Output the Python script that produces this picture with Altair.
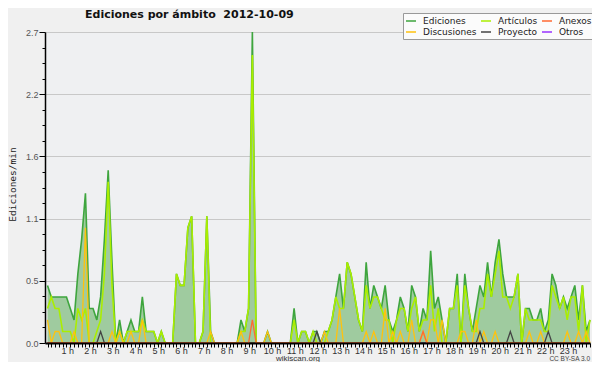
import altair as alt
import pandas as pd

# 10-minute bins over the day (0..143), values in edits/min
bins = list(range(144))

total = [
    0.5, 0.4, 0.4, 0.4, 0.4, 0.4, 0.3, 0.2, 0.6, 0.9, 1.3, 0.3,
    0.3, 0.2, 0.4, 0.9, 1.5, 0.7, 0.0, 0.2, 0.0, 0.1, 0.2, 0.1,
    0.1, 0.4, 0.1, 0.1, 0.1, 0.0, 0.1, 0.0, 0.0, 0.0, 0.6, 0.5,
    0.5, 1.0, 1.1, 0.0, 0.0, 0.1, 1.1, 0.1, 0.0, 0.0, 0.0, 0.0,
    0.0, 0.0, 0.0, 0.2, 0.1, 0.3, 2.7, 0.0, 0.0, 0.0, 0.1, 0.0,
    0.0, 0.0, 0.0, 0.0, 0.0, 0.3, 0.0, 0.1, 0.1, 0.0, 0.1, 0.1,
    0.0, 0.1, 0.1, 0.2, 0.4, 0.6, 0.3, 0.7, 0.6, 0.4, 0.2, 0.1,
    0.7, 0.3, 0.5, 0.4, 0.3, 0.5, 0.2, 0.1, 0.2, 0.4, 0.3, 0.1,
    0.5, 0.4, 0.1, 0.3, 0.2, 0.8, 0.3, 0.4, 0.2, 0.0, 0.3, 0.3,
    0.6, 0.0, 0.6, 0.3, 0.1, 0.3, 0.5, 0.4, 0.7, 0.4, 0.7, 0.9,
    0.6, 0.4, 0.4, 0.4, 0.6, 0.0, 0.3, 0.3, 0.2, 0.2, 0.3, 0.1,
    0.2, 0.6, 0.5, 0.3, 0.4, 0.3, 0.4, 0.5, 0.2, 0.5, 0.1, 0.2,
]

articulos = [
    0.3, 0.4, 0.3, 0.3, 0.1, 0.1, 0.1, 0.0, 0.3, 0.2, 0.3, 0.0,
    0.0, 0.1, 0.2, 0.6, 1.4, 0.5, 0.0, 0.1, 0.0, 0.1, 0.1, 0.1,
    0.1, 0.2, 0.1, 0.1, 0.1, 0.0, 0.1, 0.0, 0.0, 0.0, 0.6, 0.5,
    0.5, 1.0, 1.1, 0.0, 0.0, 0.1, 1.1, 0.0, 0.0, 0.0, 0.0, 0.0,
    0.0, 0.0, 0.0, 0.1, 0.1, 0.3, 2.5, 0.0, 0.0, 0.0, 0.0, 0.0,
    0.0, 0.0, 0.0, 0.0, 0.0, 0.2, 0.0, 0.1, 0.1, 0.0, 0.1, 0.0,
    0.0, 0.0, 0.1, 0.2, 0.4, 0.3, 0.3, 0.7, 0.6, 0.4, 0.2, 0.1,
    0.5, 0.3, 0.4, 0.4, 0.3, 0.2, 0.2, 0.0, 0.2, 0.3, 0.3, 0.1,
    0.3, 0.4, 0.1, 0.2, 0.2, 0.5, 0.1, 0.3, 0.0, 0.0, 0.3, 0.3,
    0.5, 0.0, 0.5, 0.3, 0.1, 0.1, 0.3, 0.3, 0.6, 0.4, 0.6, 0.8,
    0.4, 0.4, 0.3, 0.4, 0.6, 0.0, 0.3, 0.2, 0.2, 0.2, 0.2, 0.1,
    0.1, 0.5, 0.4, 0.3, 0.4, 0.2, 0.4, 0.4, 0.1, 0.5, 0.0, 0.2,
]

discusiones = [
    0.2, 0.0, 0.1, 0.1, 0.0, 0.0, 0.0, 0.1, 0.0, 0.0, 1.0, 0.0,
    0.0, 0.0, 0.0, 0.0, 0.0, 0.1, 0.0, 0.1, 0.0, 0.0, 0.1, 0.0,
    0.0, 0.2, 0.0, 0.0, 0.0, 0.0, 0.0, 0.0, 0.0, 0.0, 0.0, 0.0,
    0.0, 0.0, 0.0, 0.0, 0.0, 0.0, 0.0, 0.1, 0.0, 0.0, 0.0, 0.0,
    0.0, 0.0, 0.0, 0.1, 0.0, 0.0, 0.0, 0.0, 0.0, 0.0, 0.1, 0.0,
    0.0, 0.0, 0.0, 0.0, 0.0, 0.0, 0.0, 0.0, 0.0, 0.0, 0.0, 0.0,
    0.0, 0.1, 0.0, 0.0, 0.0, 0.3, 0.0, 0.0, 0.0, 0.0, 0.0, 0.0,
    0.1, 0.0, 0.1, 0.0, 0.0, 0.3, 0.0, 0.1, 0.0, 0.1, 0.0, 0.0,
    0.2, 0.0, 0.0, 0.1, 0.0, 0.2, 0.2, 0.0, 0.2, 0.0, 0.0, 0.0,
    0.0, 0.1, 0.1, 0.0, 0.0, 0.2, 0.0, 0.1, 0.0, 0.0, 0.1, 0.0,
    0.0, 0.0, 0.0, 0.0, 0.0, 0.0, 0.0, 0.1, 0.0, 0.0, 0.1, 0.0,
    0.0, 0.0, 0.0, 0.0, 0.0, 0.1, 0.0, 0.0, 0.1, 0.0, 0.1, 0.0,
]

proyecto = [
    0.0, 0.0, 0.0, 0.0, 0.0, 0.0, 0.0, 0.0, 0.0, 0.0, 0.0, 0.0,
    0.0, 0.0, 0.1, 0.0, 0.0, 0.0, 0.0, 0.0, 0.0, 0.0, 0.0, 0.0,
    0.0, 0.0, 0.0, 0.0, 0.0, 0.0, 0.0, 0.0, 0.0, 0.0, 0.0, 0.0,
    0.0, 0.0, 0.0, 0.0, 0.0, 0.0, 0.0, 0.0, 0.0, 0.0, 0.0, 0.0,
    0.0, 0.0, 0.0, 0.0, 0.0, 0.0, 0.0, 0.0, 0.0, 0.0, 0.0, 0.0,
    0.0, 0.0, 0.0, 0.0, 0.0, 0.0, 0.0, 0.0, 0.0, 0.0, 0.0, 0.1,
    0.0, 0.0, 0.0, 0.0, 0.0, 0.0, 0.0, 0.0, 0.0, 0.0, 0.0, 0.0,
    0.0, 0.0, 0.0, 0.0, 0.0, 0.0, 0.0, 0.0, 0.0, 0.0, 0.0, 0.0,
    0.0, 0.0, 0.0, 0.0, 0.0, 0.0, 0.0, 0.0, 0.0, 0.0, 0.0, 0.0,
    0.0, 0.0, 0.0, 0.0, 0.0, 0.0, 0.1, 0.0, 0.0, 0.0, 0.0, 0.0,
    0.0, 0.0, 0.1, 0.0, 0.0, 0.0, 0.0, 0.0, 0.0, 0.0, 0.0, 0.0,
    0.1, 0.0, 0.0, 0.0, 0.0, 0.0, 0.0, 0.0, 0.0, 0.0, 0.0, 0.0,
]

anexos = [
    0.0, 0.0, 0.0, 0.0, 0.0, 0.0, 0.0, 0.0, 0.0, 0.0, 0.0, 0.0,
    0.0, 0.0, 0.0, 0.0, 0.0, 0.0, 0.0, 0.0, 0.0, 0.0, 0.0, 0.0,
    0.0, 0.0, 0.0, 0.0, 0.0, 0.0, 0.0, 0.0, 0.0, 0.0, 0.0, 0.0,
    0.0, 0.0, 0.0, 0.0, 0.0, 0.0, 0.0, 0.0, 0.0, 0.0, 0.0, 0.0,
    0.0, 0.0, 0.0, 0.0, 0.0, 0.0, 0.2, 0.0, 0.0, 0.0, 0.0, 0.0,
    0.0, 0.0, 0.0, 0.0, 0.0, 0.0, 0.0, 0.0, 0.0, 0.0, 0.0, 0.0,
    0.0, 0.0, 0.0, 0.0, 0.0, 0.0, 0.0, 0.0, 0.0, 0.0, 0.0, 0.0,
    0.0, 0.0, 0.0, 0.0, 0.0, 0.0, 0.0, 0.0, 0.0, 0.0, 0.0, 0.0,
    0.0, 0.0, 0.0, 0.1, 0.0, 0.0, 0.0, 0.0, 0.0, 0.0, 0.0, 0.0,
    0.0, 0.0, 0.0, 0.0, 0.0, 0.0, 0.0, 0.0, 0.0, 0.0, 0.0, 0.0,
    0.0, 0.0, 0.0, 0.0, 0.0, 0.0, 0.0, 0.0, 0.0, 0.0, 0.0, 0.0,
    0.0, 0.0, 0.0, 0.0, 0.0, 0.0, 0.0, 0.0, 0.0, 0.0, 0.0, 0.0,
]

otros = [
    0.0, 0.0, 0.0, 0.0, 0.0, 0.0, 0.0, 0.0, 0.0, 0.0, 0.0, 0.0,
    0.0, 0.0, 0.0, 0.0, 0.0, 0.0, 0.0, 0.0, 0.0, 0.0, 0.0, 0.0,
    0.0, 0.0, 0.0, 0.0, 0.0, 0.0, 0.0, 0.0, 0.0, 0.0, 0.0, 0.0,
    0.0, 0.0, 0.0, 0.0, 0.0, 0.0, 0.0, 0.0, 0.0, 0.0, 0.0, 0.0,
    0.0, 0.0, 0.0, 0.0, 0.0, 0.0, 0.0, 0.0, 0.0, 0.0, 0.0, 0.0,
    0.0, 0.0, 0.0, 0.0, 0.0, 0.0, 0.0, 0.0, 0.0, 0.0, 0.0, 0.0,
    0.0, 0.0, 0.0, 0.0, 0.0, 0.0, 0.0, 0.0, 0.0, 0.0, 0.0, 0.0,
    0.0, 0.0, 0.0, 0.0, 0.0, 0.0, 0.0, 0.0, 0.0, 0.0, 0.0, 0.0,
    0.0, 0.0, 0.0, 0.0, 0.0, 0.0, 0.0, 0.0, 0.0, 0.0, 0.0, 0.0,
    0.0, 0.0, 0.0, 0.0, 0.0, 0.0, 0.0, 0.0, 0.0, 0.0, 0.0, 0.0,
    0.0, 0.0, 0.0, 0.0, 0.0, 0.0, 0.0, 0.0, 0.0, 0.0, 0.0, 0.0,
    0.0, 0.0, 0.0, 0.0, 0.0, 0.0, 0.0, 0.0, 0.0, 0.0, 0.0, 0.0,
]

legend_names = ["Ediciones", "Artículos", "Anexos", "Discusiones", "Proyecto", "Otros"]
legend_colors = ["#3ea53e", "#aaee00", "#ff6a33", "#ffc20e", "#444444", "#9933ff"]

title_text = "Ediciones por ámbito\u00a0\u00a02012-10-09"
y_title = "Ediciones/min"
footer_left = "wikiscan.org"
footer_right = "CC BY-SA 3.0"

# ---- data tables ----
series = {
    "Ediciones": total,
    "Artículos": articulos,
    "Anexos": anexos,
    "Discusiones": discusiones,
    "Proyecto": proyecto,
    "Otros": otros,
}
rows = []
for name, vals in series.items():
    for b, v in zip(bins, vals):
        rows.append({"bin": b, "serie": name, "v": v})
long_df = pd.DataFrame(rows)
total_df = pd.DataFrame({"bin": bins, "v": total})

major = "abs(datum.value / 0.54 - round(datum.value / 0.54)) < 0.01"
y_ticks = [round(k * 0.135, 3) for k in range(21)]

x_enc = alt.X(
    "bin:Q",
    scale=alt.Scale(domain=[-0.66, 143], nice=False, zero=False),
    title=None,
    axis=alt.Axis(
        values=bins,
        labelExpr="datum.value % 6 == 0 && datum.value > 0 ? (datum.value / 6) + ' h' : ''",
        labelOverlap=False,
        labelBound=False,
        labelFlush=False,
        labelOffset=-3,
        labelPadding=-1,
        labelFont="Liberation Sans",
        labelFontSize=9,
        labelColor="#333333",
        tickSize=4,
        tickColor="#000000",
        tickWidth=1,
        domainColor="#000000",
        domainWidth=2,
        grid=False,
        zindex=1,
    ),
)

y_enc = alt.Y(
    "v:Q",
    scale=alt.Scale(domain=[0, 2.7], nice=False, zero=True),
    title=y_title,
    axis=alt.Axis(
        values=y_ticks,
        labelExpr=major + " ? format(datum.value, '.1f') : ''",
        labelOverlap=False,
        labelFont="Liberation Sans",
        labelFontSize=9,
        labelColor="#555555",
        labelPadding=1,
        tickSize={"condition": {"test": major, "value": 6}, "value": 3},
        tickColor="#000000",
        domainColor="#000000",
        domainWidth=1.5,
        grid=True,
        gridColor="#c8c8c8",
        gridOpacity={"condition": {"test": major, "value": 1}, "value": 0},
        titleFont="DejaVu Sans Mono",
        titleFontSize=9.5,
        titleFontWeight="normal",
        titleColor="#222222",
        titleX=-33,
        titleY=152,
        titleBaseline="middle",
        titleAngle=270,
    ),
)

color_scale = alt.Scale(domain=legend_names, range=legend_colors)

area = alt.Chart(total_df).mark_area(color="#9fcb9f", interpolate="linear").encode(x=x_enc, y=y_enc)

draw_order = ["Otros", "Ediciones", "Artículos", "Discusiones", "Proyecto", "Anexos"]
widths = {"Otros": 1.2, "Ediciones": 1.6, "Artículos": 1.6, "Discusiones": 1.3, "Proyecto": 1.3, "Anexos": 1.3}

legend_cfg = alt.Legend(
    orient="none",
    legendX=358,
    legendY=-19,
    columns=3,
    direction="horizontal",
    symbolType="stroke",
    symbolSize=100,
    symbolStrokeWidth=1.5,
    labelFont="DejaVu Sans",
    labelFontSize=9,
    labelColor="#222222",
    labelOffset=6,
    columnPadding=1,
    rowPadding=-2,
    padding=2,
    fillColor="#fbfbfb",
    strokeColor="#999999",
    title=None,
)

line_layers = []
for k, name in enumerate(draw_order):
    if k == 0:
        enc_color = alt.Color("serie:N", scale=color_scale, legend=legend_cfg)
    else:
        enc_color = alt.Color("serie:N", scale=color_scale)
    layer = (
        alt.Chart(long_df)
        .transform_filter(alt.datum.serie == name)
        .mark_line(strokeWidth=widths[name], interpolate="linear")
        .encode(x=x_enc, y=y_enc, color=enc_color)
    )
    line_layers.append(layer)

one = alt.Data(values=[{"a": 1}])
shadow = alt.Chart(one).mark_rect(color="#9a9a9a").encode(
    x=alt.value(361), x2=alt.value(547), y=alt.value(-16), y2=alt.value(7)
)
title_mark = alt.Chart(one).mark_text(
    text=title_text, font="DejaVu Sans", fontSize=11, fontWeight="bold", color="#111111",
    align="left", baseline="alphabetic"
).encode(x=alt.value(40), y=alt.value(-14))
foot1 = alt.Chart(one).mark_text(
    text=footer_left, font="Liberation Sans", fontSize=8, color="#333333", align="center", baseline="alphabetic"
).encode(x=alt.value(253), y=alt.value(329))
foot2 = alt.Chart(one).mark_text(
    text=footer_right, font="Liberation Sans", fontSize=6.5, color="#444444", align="right", baseline="alphabetic"
).encode(x=alt.value(545), y=alt.value(329))

chart = (
    alt.layer(area, *line_layers, shadow, title_mark, foot1, foot2)
    .properties(
        width=545,
        height=311,
        background="#f0f0f0",
        padding={"left": 37, "top": 24, "right": 2, "bottom": 19},
        autosize=alt.AutoSizeParams(type="none"),
    )
    .configure_view(stroke="transparent", fill="#eff0f2")
)

chart.save("out.html", embed_options={"renderer": "svg", "actions": False})
